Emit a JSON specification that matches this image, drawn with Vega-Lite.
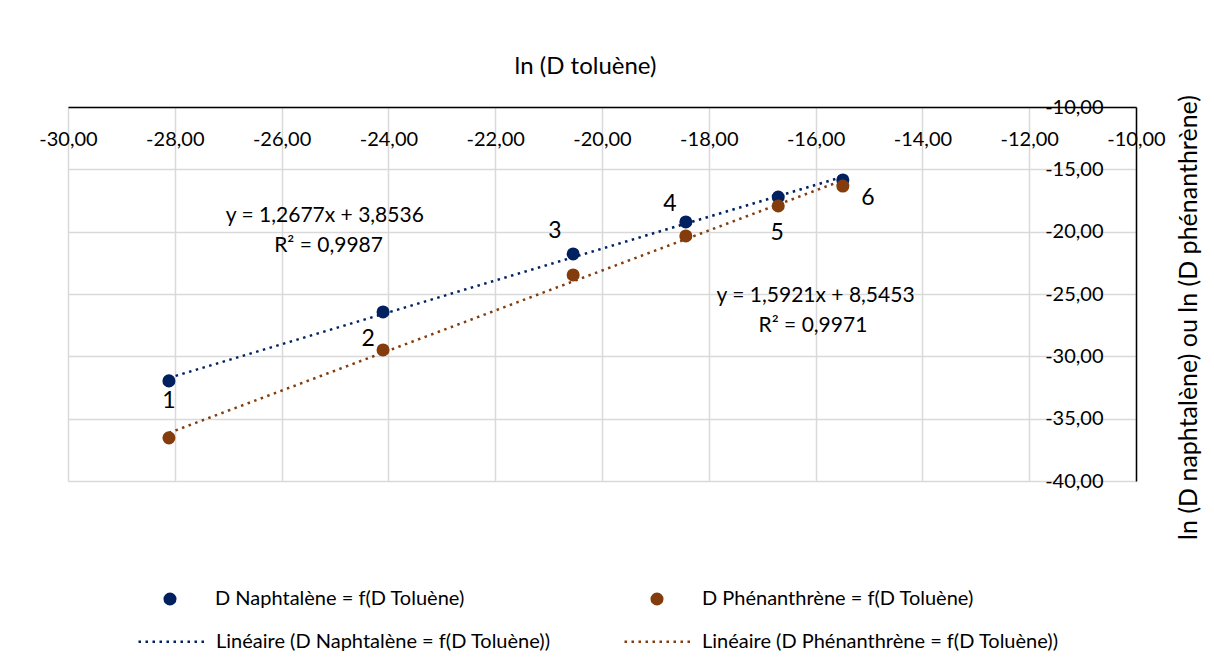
{
  "$schema": "https://vega.github.io/schema/vega-lite/v6.json",
  "width": 1068,
  "height": 374,
  "autosize": "none",
  "padding": {"left": 68, "top": 107, "right": 78, "bottom": 187},
  "background": "white",
  "config": {
    "view": {"stroke": null},
    "font": "Lato",
    "axisX": {
      "domainColor": "#000000",
      "domainWidth": 1.5,
      "ticks": false,
      "labelPadding": -22,
      "labelBaseline": "top",
      "labelFlush": false,
      "labelOverlap": false,
      "labelFontSize": 20,
      "labelColor": "#000000",
      "gridColor": "#d9d9d9",
      "gridWidth": 1.5,
      "titleFontSize": 24,
      "titleFontWeight": "normal",
      "titleColor": "#000000",
      "titleX": 517,
      "titleY": -41,
      "titleBaseline": "middle",
      "titleAlign": "center"
    },
    "axisY": {
      "domainColor": "#000000",
      "domainWidth": 1.5,
      "ticks": false,
      "labelPadding": -33,
      "labelAlign": "right",
      "labelFlush": false,
      "labelOverlap": false,
      "labelFontSize": 20,
      "labelColor": "#000000",
      "gridColor": "#d9d9d9",
      "gridWidth": 1.5,
      "titleFontSize": 25,
      "titleFontWeight": "normal",
      "titleColor": "#000000",
      "titleX": 52,
      "titleY": 210,
      "titleAngle": 270,
      "titleBaseline": "middle",
      "titleAlign": "center"
    },
    "legend": {
      "labelFontSize": 20,
      "labelColor": "#000000",
      "labelLimit": 600,
      "title": null
    }
  },
  "datasets": {
    "pts": [
      {"series": "D Naphtalène = f(D Toluène)", "trend": "Linéaire (D Naphtalène = f(D Toluène))", "x": -28.11, "y": -31.97},
      {"series": "D Naphtalène = f(D Toluène)", "trend": "Linéaire (D Naphtalène = f(D Toluène))", "x": -24.10, "y": -26.44},
      {"series": "D Naphtalène = f(D Toluène)", "trend": "Linéaire (D Naphtalène = f(D Toluène))", "x": -20.54, "y": -21.79},
      {"series": "D Naphtalène = f(D Toluène)", "trend": "Linéaire (D Naphtalène = f(D Toluène))", "x": -18.43, "y": -19.22},
      {"series": "D Naphtalène = f(D Toluène)", "trend": "Linéaire (D Naphtalène = f(D Toluène))", "x": -16.70, "y": -17.22},
      {"series": "D Naphtalène = f(D Toluène)", "trend": "Linéaire (D Naphtalène = f(D Toluène))", "x": -15.49, "y": -15.85},
      {"series": "D Phénanthrène = f(D Toluène)", "trend": "Linéaire (D Phénanthrène = f(D Toluène))", "x": -28.11, "y": -36.54},
      {"series": "D Phénanthrène = f(D Toluène)", "trend": "Linéaire (D Phénanthrène = f(D Toluène))", "x": -24.10, "y": -29.49},
      {"series": "D Phénanthrène = f(D Toluène)", "trend": "Linéaire (D Phénanthrène = f(D Toluène))", "x": -20.54, "y": -23.47},
      {"series": "D Phénanthrène = f(D Toluène)", "trend": "Linéaire (D Phénanthrène = f(D Toluène))", "x": -18.43, "y": -20.34},
      {"series": "D Phénanthrène = f(D Toluène)", "trend": "Linéaire (D Phénanthrène = f(D Toluène))", "x": -16.70, "y": -17.94},
      {"series": "D Phénanthrène = f(D Toluène)", "trend": "Linéaire (D Phénanthrène = f(D Toluène))", "x": -15.49, "y": -16.34}
    ],
    "nums": [
      {"x": -28.11, "y": -33.58, "t": "1"},
      {"x": -24.38, "y": -28.6, "t": "2"},
      {"x": -20.88, "y": -19.94, "t": "3"},
      {"x": -18.73, "y": -17.78, "t": "4"},
      {"x": -16.72, "y": -20.1, "t": "5"},
      {"x": -15.02, "y": -17.3, "t": "6"}
    ],
    "eqs": [
      {"x": -25.19, "y": -18.74, "t": "y = 1,2677x + 3,8536"},
      {"x": -25.12, "y": -21.15, "t": "R² = 0,9987"},
      {"x": -16.0, "y": -25.16, "t": "y = 1,5921x + 8,5453"},
      {"x": -16.05, "y": -27.56, "t": "R² = 0,9971"}
    ]
  },
  "layer": [
    {
      "data": {"name": "pts"},
      "transform": [{"regression": "y", "on": "x", "groupby": ["trend"]}],
      "mark": {"type": "line", "strokeWidth": 2.5, "strokeDash": [2.5, 4.5]},
      "encoding": {
        "x": {
          "field": "x", "type": "quantitative", "title": "ln (D toluène)",
          "scale": {"domain": [-30, -10], "nice": false, "zero": false},
          "axis": {
            "orient": "top",
            "values": [-30, -28, -26, -24, -22, -20, -18, -16, -14, -12, -10],
            "labelExpr": "replace(replace(format(datum.value, '.2f'), '.', ','), '\u2212', '-')"
          }
        },
        "y": {
          "field": "y", "type": "quantitative", "title": "ln (D naphtalène) ou ln (D phénanthrène)",
          "scale": {"domain": [-40, -10], "nice": false, "zero": false},
          "axis": {
            "orient": "right",
            "values": [-40, -35, -30, -25, -20, -15, -10],
            "labelExpr": "replace(replace(format(datum.value, '.2f'), '.', ','), '\u2212', '-')"
          }
        },
        "stroke": {
          "field": "trend", "type": "nominal",
          "scale": {"domain": ["Linéaire (D Naphtalène = f(D Toluène))", "Linéaire (D Phénanthrène = f(D Toluène))"], "range": ["#002060", "#843C0C"]},
          "legend": {
            "orient": "none", "legendX": 69, "legendY": 499, "direction": "horizontal",
            "symbolType": "stroke", "symbolSize": 4624, "symbolStrokeWidth": 2.5,
            "symbolDash": [2.5, 4.5], "labelOffset": 8, "columnPadding": 68
          }
        }
      }
    },
    {
      "data": {"name": "pts"},
      "mark": {"type": "point", "filled": true, "opacity": 1, "size": 170},
      "encoding": {
        "x": {"field": "x", "type": "quantitative", "title": "ln (D toluène)"},
        "y": {"field": "y", "type": "quantitative", "title": "ln (D naphtalène) ou ln (D phénanthrène)"},
        "color": {
          "field": "series", "type": "nominal",
          "scale": {"domain": ["D Naphtalène = f(D Toluène)", "D Phénanthrène = f(D Toluène)"], "range": ["#002060", "#843C0C"]},
          "legend": {
            "orient": "none", "legendX": 92, "legendY": 482, "direction": "horizontal",
            "symbolType": "circle", "symbolSize": 170, "labelOffset": 35, "columnPadding": 182
          }
        }
      }
    },
    {
      "data": {"name": "nums"},
      "mark": {"type": "text", "fontSize": 23, "color": "#000000", "align": "center", "baseline": "middle"},
      "encoding": {
        "x": {"field": "x", "type": "quantitative", "title": "ln (D toluène)"},
        "y": {"field": "y", "type": "quantitative", "title": "ln (D naphtalène) ou ln (D phénanthrène)"},
        "text": {"field": "t"}
      }
    },
    {
      "data": {"name": "eqs"},
      "mark": {"type": "text", "fontSize": 21, "color": "#000000", "align": "center", "baseline": "middle"},
      "encoding": {
        "x": {"field": "x", "type": "quantitative", "title": "ln (D toluène)"},
        "y": {"field": "y", "type": "quantitative", "title": "ln (D naphtalène) ou ln (D phénanthrène)"},
        "text": {"field": "t"}
      }
    }
  ]
}
